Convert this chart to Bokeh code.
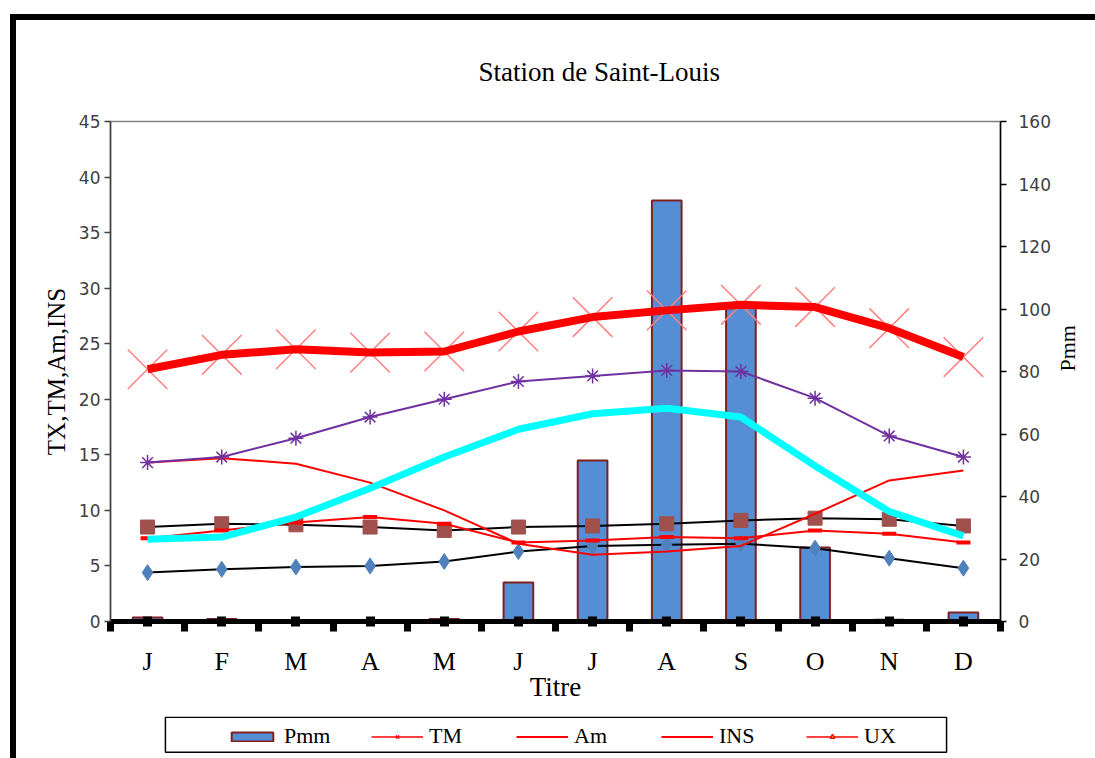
import math
from bokeh.plotting import figure
from bokeh.layouts import column
from bokeh.models import Range1d, LinearAxis, FixedTicker, Legend, LegendItem, BoxAnnotation
from bokeh.embed import file_html
from bokeh.resources import INLINE

# ---------------- data ----------------
months = ["J", "F", "M", "A", "M", "J", "J", "A", "S", "O", "N", "D"]
pmm = [1.3, 0.8, 0.0, 0.0, 0.8, 12.5, 51.5, 134.7, 101.0, 23.7, 0.6, 2.9]
tm = [22.7, 24.0, 24.5, 24.2, 24.3, 26.1, 27.4, 28.0, 28.5, 28.3, 26.4, 23.8]
tx = [14.3, 14.8, 16.5, 18.4, 20.0, 21.6, 22.1, 22.6, 22.5, 20.1, 16.7, 14.8]
cyan_s = [7.4, 7.6, 9.4, 12.0, 14.8, 17.3, 18.7, 19.2, 18.4, 14.0, 9.9, 7.7]
red1 = [14.3, 14.7, 14.2, 12.5, 10.0, 7.0, 6.0, 6.3, 6.8, 9.7, 12.7, 13.6]
red2 = [7.5, 8.2, 8.9, 9.4, 8.8, 7.1, 7.3, 7.6, 7.5, 8.2, 7.9, 7.1]
sq_s = [8.5, 8.8, 8.7, 8.5, 8.2, 8.5, 8.6, 8.8, 9.1, 9.3, 9.2, 8.6]
dia_s = [4.4, 4.7, 4.9, 5.0, 5.4, 6.3, 6.8, 6.9, 7.0, 6.6, 5.7, 4.8]
left_ticks = [0, 5, 10, 15, 20, 25, 30, 35, 40, 45]
right_ticks = [0, 20, 40, 60, 80, 100, 120, 140, 160]
legend_labels = ["Pmm", "TM", "Am", "INS", "UX"]

x = [i + 0.5 for i in range(len(months))]
bounds = list(range(len(months) + 1))
NAN = float("nan")

SERIF = "Liberation Serif"
SANS = "DejaVu Sans"

p = figure(width=1079, height=696, output_backend="svg", toolbar_location=None,
           x_range=Range1d(0, 12), y_range=Range1d(0, 45),
           min_border_left=94, min_border_right=94, min_border_top=101,
           min_border_bottom=95)
p.extra_y_ranges = {"pmm": Range1d(0, 160)}
p.xgrid.visible = False
p.ygrid.visible = False
p.outline_line_color = "#808080"
p.outline_line_width = 1.5
p.background_fill_color = "white"
p.border_fill_color = "white"

# title
p.title.text = "Station de Saint-Louis"
p.title.align = "left"
p.title.offset = 368
p.title.standoff = 69
p.title.text_font = SERIF
p.title.text_font_size = "27px"
p.title.text_font_style = "normal"
p.title.text_color = "black"

# bottom axis
xa = p.xaxis[0]
xa.ticker = FixedTicker(ticks=x, minor_ticks=bounds)
xa.major_label_overrides = {xi: m for xi, m in zip(x, months)}
xa.axis_line_width = 5
xa.axis_line_color = "black"
xa.major_tick_in = 5
xa.major_tick_out = 5
xa.major_tick_line_width = 9
xa.major_tick_line_color = "black"
xa.minor_tick_in = 0
xa.minor_tick_out = 10
xa.minor_tick_line_width = 7
xa.minor_tick_line_color = "black"
xa.major_label_standoff = 15
xa.major_label_text_font = SERIF
xa.major_label_text_font_size = "26px"
xa.major_label_text_color = "black"
xa.axis_label = "Titre"
xa.axis_label_standoff = -7
xa.axis_label_text_font = SERIF
xa.axis_label_text_font_size = "27px"
xa.axis_label_text_font_style = "normal"
xa.axis_label_text_color = "black"

# left axis
ya = p.yaxis[0]
ya.ticker = FixedTicker(ticks=left_ticks)
ya.axis_line_color = "#404040"
ya.axis_line_width = 1.5
ya.major_tick_in = 0
ya.major_tick_out = 6
ya.major_tick_line_color = "#404040"
ya.major_tick_line_width = 1.5
ya.minor_tick_line_color = None
ya.major_label_standoff = 4
ya.major_label_text_font = SANS
ya.major_label_text_font_size = "17px"
ya.major_label_text_color = "#404040"
ya.axis_label = "TX,TM,Am,INS"
ya.axis_label_standoff = 6
ya.axis_label_text_font = SERIF
ya.axis_label_text_font_size = "25px"
ya.axis_label_text_font_style = "normal"
ya.axis_label_text_color = "black"

# right axis
ra = LinearAxis(y_range_name="pmm", ticker=FixedTicker(ticks=right_ticks))
ra.axis_line_color = "black"
ra.axis_line_width = 1.5
ra.major_tick_in = 0
ra.major_tick_out = 6
ra.major_tick_line_color = "black"
ra.major_tick_line_width = 1.5
ra.minor_tick_line_color = None
ra.major_label_standoff = 12
ra.major_label_text_font = SANS
ra.major_label_text_font_size = "17px"
ra.major_label_text_color = "#404040"
ra.axis_label = "Pmm"
ra.axis_label_standoff = 14
ra.axis_label_text_font = SERIF
ra.axis_label_text_font_size = "22px"
ra.axis_label_text_font_style = "normal"
ra.axis_label_text_color = "black"
if "axis_label_orientation" in ra.properties():
    ra.axis_label_orientation = math.pi / 2
p.add_layout(ra, "right")

# ---------------- glyphs ----------------
BAR_STYLE = dict(fill_color="#558ED5", line_color="#7F1F1F", line_width=2)
p.vbar(x=x, top=pmm, bottom=0, width=0.4, y_range_name="pmm", **BAR_STYLE)

p.line(x, dia_s, line_color="black", line_width=2)
p.scatter(x, dia_s, marker="diamond", size=16, fill_color="#4F81BD", line_color="#4F81BD")

p.line(x, sq_s, line_color="black", line_width=2)
p.scatter(x, sq_s, marker="square", size=14, fill_color="#A0504D", line_color="#A0504D")

p.line(x, red1, line_color="red", line_width=2)
p.line(x, red2, line_color="red", line_width=2)
p.scatter(x, red2, marker="dash", size=14, line_color="red", line_width=4)

p.line(x, cyan_s, line_color="#00FFFF", line_width=7, line_join="round")

p.line(x, tx, line_color="#7030A0", line_width=2)
p.scatter(x, tx, marker="asterisk", size=15, line_color="#7030A0", line_width=1.5)

p.scatter(x, tm, marker="x", size=56, line_color="#FF8080", line_width=1.5)
p.line(x, tm, line_color="red", line_width=8, line_join="round")

# ---------------- legend strip ----------------
q = figure(width=1079, height=42, output_backend="svg", toolbar_location=None,
           x_range=Range1d(0, 1), y_range=Range1d(0, 1), min_border=0)
q.axis.visible = False
q.xgrid.visible = False
q.ygrid.visible = False
q.outline_line_color = None
q.background_fill_color = "white"
q.border_fill_color = "white"

# legend frame box
q.add_layout(BoxAnnotation(left=0.0617, right=0.9394, bottom=0.15, top=0.985,
                           fill_alpha=0, line_color="black", line_width=1.5,
                           line_alpha=1))

r_p = q.vbar(x=[NAN], top=[NAN], width=0.1, **BAR_STYLE)
r_tm = [q.line([NAN], [NAN], line_color="red", line_width=1.5),
        q.scatter([NAN], [NAN], marker="x", size=13, line_color="red", line_width=1.5)]
r_am = q.line([NAN], [NAN], line_color="red", line_width=2)
r_ins = q.line([NAN], [NAN], line_color="red", line_width=2)
r_ux = [q.line([NAN], [NAN], line_color="red", line_width=1.5),
        q.scatter([NAN], [NAN], marker="triangle", size=12, fill_color="yellow",
                  line_color="red", line_width=1.5)]
rend = [[r_p], r_tm, [r_am], [r_ins], r_ux]

legend = Legend(items=[LegendItem(label=lab, renderers=rr) for lab, rr in zip(legend_labels, rend)],
                orientation="horizontal", location=(116, 9), glyph_width=52, glyph_height=11,
                label_width=87, label_height=22, label_standoff=6, spacing=0, padding=0, margin=0,
                border_line_color=None, background_fill_alpha=0,
                label_text_font=SERIF, label_text_font_size="22px", label_text_color="black")
q.add_layout(legend)

page = column(p, q, spacing=0)
page.styles = {"margin-left": "10px", "margin-top": "14px",
               "border-left": "6px solid black", "border-top": "6px solid black"}

open("out.html", "w").write(file_html(page, INLINE))
